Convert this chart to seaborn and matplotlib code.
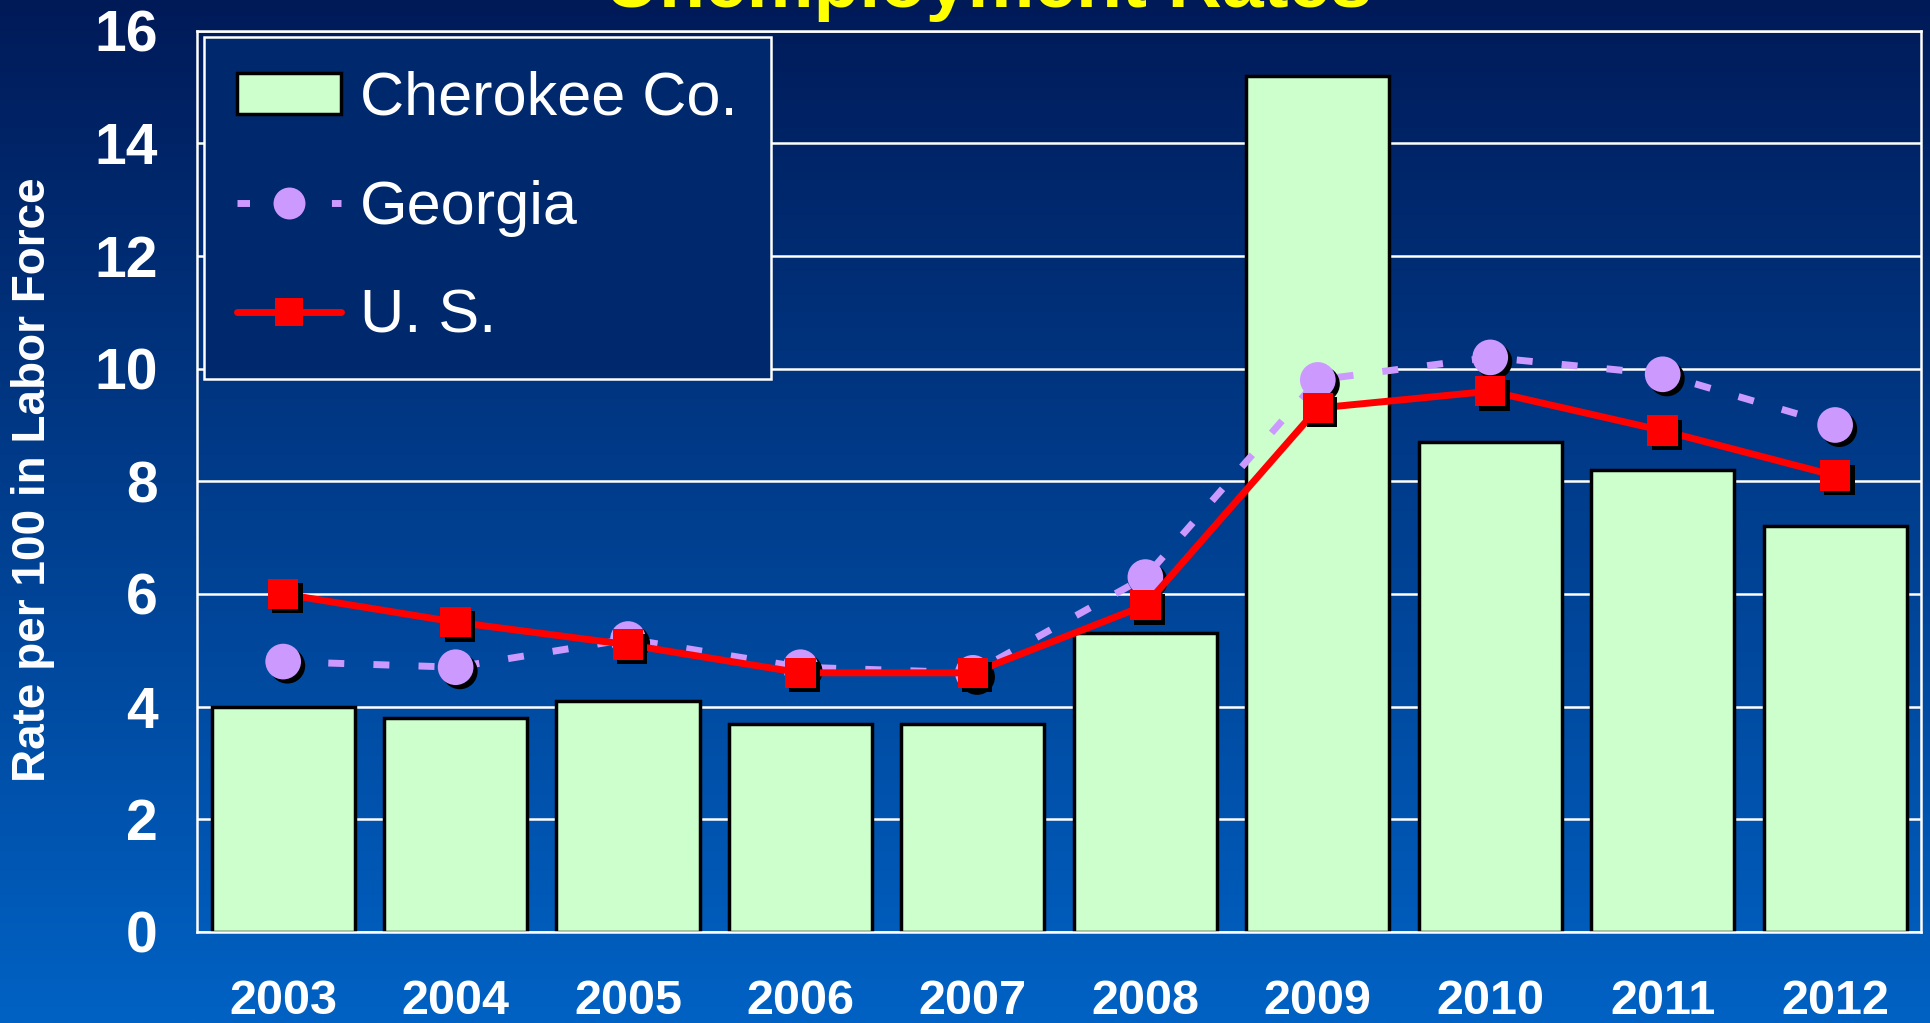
import matplotlib
matplotlib.use("Agg")
import numpy as np
import pandas as pd
import seaborn as sns
import matplotlib.pyplot as plt
from matplotlib import patheffects as pe
from matplotlib.lines import Line2D
from matplotlib.patches import Patch
from matplotlib.colors import LinearSegmentedColormap

# ---- data ----
years = ["2003", "2004", "2005", "2006", "2007", "2008", "2009", "2010", "2011", "2012"]
cherokee = [4.0, 3.8, 4.1, 3.7, 3.7, 5.3, 15.2, 8.7, 8.2, 7.2]
georgia = [4.8, 4.7, 5.2, 4.7, 4.6, 6.3, 9.8, 10.2, 9.9, 9.0]
us = [6.0, 5.5, 5.1, 4.6, 4.6, 5.8, 9.3, 9.6, 8.9, 8.1]
yticks = [0, 2, 4, 6, 8, 10, 12, 14, 16]
series_names = ["Cherokee Co.", "Georgia", "U. S."]

df = pd.DataFrame({"year": years, "cherokee": cherokee, "georgia": georgia, "us": us})

sns.set_theme(style="white")
BOLD = ["Liberation Sans", "DejaVu Sans"]
plt.rcParams["font.family"] = BOLD

TOP_C, BOT_C = "#001A58", "#0062C4"
BAR_C, GA_C, US_C = "#CCFFCC", "#CC99FF", "#FF0000"

fig = plt.figure(figsize=(19.31, 10.23), dpi=100)

# gradient background
bg = fig.add_axes([0, 0, 1, 1], zorder=-10)
bg.axis("off")
cmap = LinearSegmentedColormap.from_list("bg", [TOP_C, BOT_C])
bg.imshow(np.linspace(0, 1, 512)[:, None], aspect="auto", cmap=cmap, extent=[0, 1, 0, 1])

ax = fig.add_axes([0.102, 0.089, 0.893, 0.881])
ax.patch.set_alpha(0)

sns.barplot(data=df, x="year", y="cherokee", color=BAR_C, saturation=1,
            edgecolor="black", linewidth=2.5, width=0.83, ax=ax, zorder=2)

shadow = [pe.SimplePatchShadow(offset=(3, -3), shadow_rgbFace="black", alpha=1.0), pe.Normal()]

sns.lineplot(data=df, x="year", y="georgia", color=GA_C, lw=5, sort=False,
             linestyle=(0, (2.3, 4.2)), dash_capstyle="butt", ax=ax, zorder=3)
sns.scatterplot(data=df, x="year", y="georgia", color=GA_C, marker="o", s=660,
                edgecolor="none", linewidth=0, ax=ax, zorder=4, path_effects=shadow)
sns.lineplot(data=df, x="year", y="us", color=US_C, lw=5, sort=False, ax=ax, zorder=5)
sns.scatterplot(data=df, x="year", y="us", color=US_C, marker="s", s=480,
                edgecolor="none", linewidth=0, ax=ax, zorder=6, path_effects=shadow)

ax.set_xlim(-0.5, len(years) - 0.5)
ax.set_ylim(0, 16)
ax.set_yticks(yticks)
ax.set_yticklabels([str(v) for v in yticks], fontsize=41, fontweight="bold", color="white")
ax.set_xticks(range(len(years)))
ax.set_xticklabels(years, fontsize=35, fontweight="bold", color="white")
ax.set_xticks(np.arange(-0.5, len(years), 1), minor=True)
ax.tick_params(axis="x", which="major", length=0, pad=34)
ax.tick_params(axis="x", which="minor", direction="inout", length=22, width=1.8, color="white")
ax.tick_params(axis="y", which="major", direction="inout", length=29, width=1.8,
               color="white", pad=14)
ax.set_xlabel("")
ax.set_ylabel("")
ax.yaxis.grid(True, color="white", lw=1.8)
ax.xaxis.grid(False)
ax.set_axisbelow(True)
for s in ax.spines.values():
    s.set_visible(True)
    s.set_color("white")
    s.set_linewidth(1.8)

# legend
handles = [
    Patch(facecolor=BAR_C, edgecolor="black", linewidth=2.5),
    Line2D([], [], color=GA_C, lw=5, linestyle=(0, (1.8, 5.0)), dash_capstyle="butt",
           marker="o", markersize=23, markeredgewidth=0),
    Line2D([], [], color=US_C, lw=5, solid_capstyle="round",
           marker="s", markersize=20, markeredgewidth=0),
]
leg = ax.legend(handles, series_names, loc="upper left", bbox_to_anchor=(0.004, 0.993),
                borderaxespad=0, frameon=True, fancybox=False, facecolor="#00286C",
                edgecolor="white", framealpha=1, handlelength=1.7, handleheight=0.65,
                handletextpad=0.3, borderpad=0.55, labelspacing=0.85,
                prop={"size": 44})
leg.get_frame().set_linewidth(1.8)
for t in leg.get_texts():
    t.set_color("white")
leg.set_zorder(10)

fig.text(33 / 1931, 0.531, "Rate per 100 in Labor Force", rotation=90, ha="center",
         va="center", color="white", fontsize=33, fontweight="bold")
fig.text(0.512, 1 - 7 / 1023, "Unemployment Rates", ha="center", va="baseline",
         color="#FFFF00", fontsize=54, fontweight="bold")

fig.savefig("out.png", dpi=100)
